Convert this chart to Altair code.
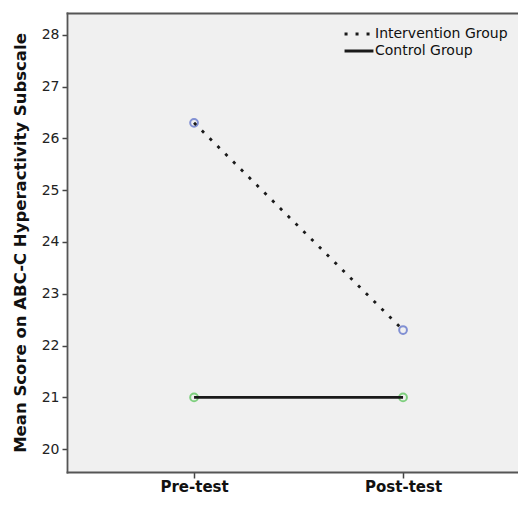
import altair as alt
import pandas as pd

groups = ["Intervention Group", "Intervention Group", "Control Group", "Control Group"]
times = ["Pre-test", "Post-test", "Pre-test", "Post-test"]
scores = [26.3, 22.3, 21.0, 21.0]

group_order = ["Intervention Group", "Control Group"]
time_order = ["Pre-test", "Post-test"]
y_ticks = [20, 21, 22, 23, 24, 25, 26, 27, 28]
point_colors = {"Intervention Group": "#5368c8", "Control Group": "#4fc24f"}

df = pd.DataFrame({"group": groups, "time": times, "score": scores})

frame_color = "#555555"
frame_width = 1.8

x_scale = alt.Scale(type="point", padding=0.579, align=0.525, domain=time_order)
y_scale = alt.Scale(domain=[19.56, 28.42], nice=False, zero=False)

x_bottom = alt.X("time:N", sort=time_order, scale=x_scale,
                 axis=alt.Axis(orient="bottom", title=None, labelFont="DejaVu Sans",
                               labelFontWeight="bold", labelFontSize=15, labelColor="#111",
                               tickSize=6, tickColor="#444", tickWidth=1.5, labelPadding=1,
                               domain=True, domainColor=frame_color, domainWidth=frame_width,
                               domainCap="square", labelAngle=0))
x_top = alt.X("time:N", sort=time_order, scale=x_scale,
              axis=alt.Axis(orient="top", title=None, labels=False, ticks=False,
                            domain=True, domainColor=frame_color, domainWidth=frame_width,
                            domainCap="square"))
x_plain = alt.X("time:N", sort=time_order, scale=x_scale, axis=None)

y_enc = alt.Y("score:Q", scale=y_scale,
              axis=alt.Axis(title="Mean Score on ABC-C Hyperactivity Subscale",
                            titleFont="DejaVu Sans", titleFontSize=16.5, titleFontWeight="bold",
                            titleColor="#111", titlePadding=13,
                            values=y_ticks, labelFont="DejaVu Sans", labelFontSize=14,
                            labelColor="#222", tickSize=5, tickColor="#444", tickWidth=1.5,
                            labelPadding=3, grid=False, domain=True, domainColor=frame_color,
                            domainWidth=frame_width, domainCap="square"))

# invisible layer that carries the top edge of the frame
top_edge = alt.Chart(df).mark_point(opacity=0).encode(x=x_top, y=y_enc)

point_layers = []
for g in group_order:
    point_layers.append(
        alt.Chart(df).transform_filter(alt.datum.group == g)
        .mark_point(shape="circle", filled=False, size=60, strokeWidth=2, color=point_colors[g])
        .encode(x=x_plain, y=y_enc)
    )

lines = alt.Chart(df).mark_line(color="#1a1a1a", strokeWidth=2.8).encode(
    x=x_bottom, y=y_enc,
    strokeDash=alt.StrokeDash("group:N",
                              scale=alt.Scale(domain=group_order, range=[[3, 8], [1, 0]]),
                              legend=alt.Legend(title=None, orient="none", legendX=282, legendY=11,
                                                symbolType="M-1.7,0H1.7", symbolSize=289,
                                                symbolStrokeWidth=2.8, symbolStrokeColor="#1a1a1a",
                                                labelFont="DejaVu Sans", labelFontSize=14,
                                                labelColor="#111", labelOffset=6, rowPadding=0)),
)

chart = alt.layer(top_edge, *point_layers, lines).resolve_axis(x="independent").properties(
    width=451, height=459,
    autosize=alt.AutoSizeParams(type="none"),
    padding={"left": 59, "top": 5, "right": 0, "bottom": 26},
    background="white",
).configure_view(
    fill="#f0f0f0", stroke=None
)

chart.save("out.html", embed_options={"renderer": "svg", "actions": False})
